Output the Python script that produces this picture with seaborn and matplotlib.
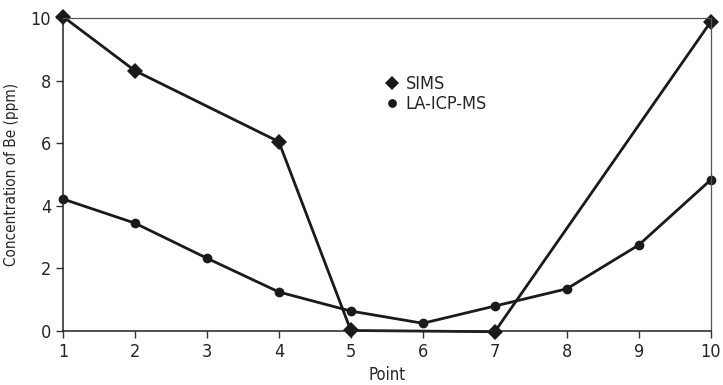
import matplotlib
matplotlib.use("Agg")
import matplotlib.pyplot as plt
import pandas as pd
import seaborn as sns

points = [1, 2, 3, 4, 5, 6, 7, 8, 9, 10]
sims = [10.05, 8.32, None, 6.05, 0.02, None, -0.02, None, None, 9.88]
la_icp_ms = [4.22, 3.45, 2.33, 1.25, 0.64, 0.25, 0.8, 1.35, 2.75, 4.83]

sns.set_style("ticks")
plt.rcParams["font.family"] = ["DejaVu Sans"]
plt.rcParams["font.stretch"] = "condensed"

sims_df = pd.DataFrame({"point": points, "ppm": sims}).dropna()
la_df = pd.DataFrame({"point": points, "ppm": la_icp_ms})

fig = plt.figure(figsize=(7.23, 3.85), dpi=100)
ax = fig.add_axes([0.087, 0.14, 0.896, 0.813])

sns.lineplot(data=sims_df, x="point", y="ppm", ax=ax, color="#1a1a1a", linewidth=2,
             marker="D", markersize=8, markeredgewidth=0, label="SIMS", clip_on=False)
sns.lineplot(data=la_df, x="point", y="ppm", ax=ax, color="#1a1a1a", linewidth=2,
             marker="o", markersize=7, markeredgewidth=0, label="LA-ICP-MS", clip_on=False)

ax.set_xlim(1, 10)
ax.set_ylim(0, 10)
ax.set_xticks(points)
ax.set_yticks([0, 2, 4, 6, 8, 10])
ax.set_xlabel("Point", fontsize=12, labelpad=4)
ax.set_ylabel("Concentration of Be (ppm)", fontsize=11, labelpad=8)
ax.tick_params(labelsize=13, length=5, width=1, color="#333333")
for side in ["left", "bottom"]:
    ax.spines[side].set_color("#222222")
    ax.spines[side].set_linewidth(1.1)
for side in ["top", "right"]:
    ax.spines[side].set_color("#555555")
    ax.spines[side].set_linewidth(0.9)

ax.legend(loc="upper left", bbox_to_anchor=(0.483, 0.87), frameon=False, fontsize=13,
          handlelength=0, handletextpad=0.75, labelspacing=0.1, markerscale=0.9)
leg = ax.get_legend()
for h in leg.legend_handles:
    h.set_linestyle("none")

fig.savefig("out.png", dpi=100)
